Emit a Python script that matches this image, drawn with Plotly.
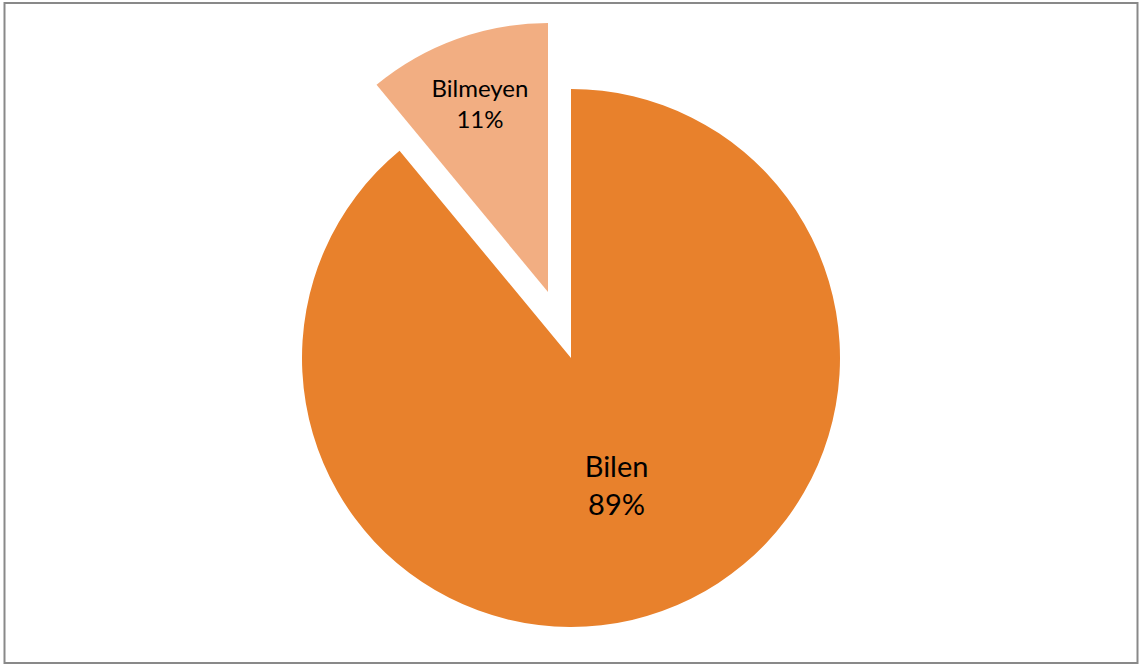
import plotly.graph_objects as go

labels = ["Bilen", "Bilmeyen"]
values = [89, 11]
colors = ["#E8812C", "#F2AE82"]

W, H = 1139, 664
R = 269
main_center = (571, 358)      # pixel centre of the main pie
pulled_center = (548, 292)    # pixel centre of the pulled-out slice


def domain(cx, cy, r):
    return dict(x=[(cx - r) / W, (cx + r) / W],
                y=[1 - (cy + r) / H, 1 - (cy - r) / H])


def trace_for(idx, center, fsize):
    cols = ["rgba(0,0,0,0)"] * len(labels)
    cols[idx] = colors[idx]
    tmpl = [""] * len(labels)
    tmpl[idx] = "%{label}<br>%{percent:.0%}"
    return go.Pie(
        labels=labels, values=values, sort=False, direction="clockwise",
        rotation=0, marker=dict(colors=cols, line=dict(width=0)),
        texttemplate=tmpl, textposition="inside",
        insidetextorientation="horizontal",
        textfont=dict(family="Lato", size=fsize, color="black"),
        domain=domain(center[0], center[1], R), showlegend=False,
        hoverinfo="label+percent",
    )


fig = go.Figure([trace_for(0, main_center, 29), trace_for(1, pulled_center, 24)])
fig.update_layout(
    width=W, height=H, margin=dict(l=0, r=0, t=0, b=0),
    paper_bgcolor="white", plot_bgcolor="white", showlegend=False,
    shapes=[dict(type="rect", xref="paper", yref="paper",
                 x0=4.5 / W, x1=1137.5 / W, y0=1 - 663 / H, y1=1 - 3 / H,
                 line=dict(color="#898989", width=2))],
)
fig.write_html("out.html", config={"displayModeBar": False},
               post_script="document.body.style.margin='0';document.body.style.overflow='hidden';")
